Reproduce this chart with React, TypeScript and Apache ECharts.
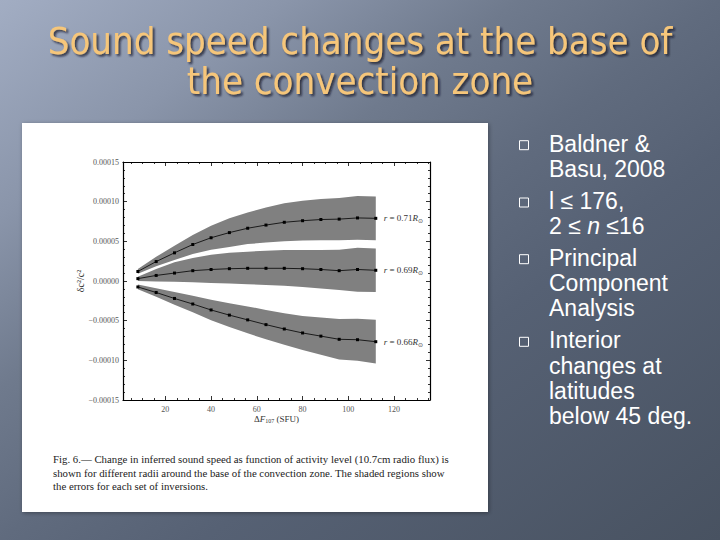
import React, { useEffect, useRef } from "react";
import * as echarts from "echarts";

// ---------- data ----------
const X = [8, 16, 24, 32, 40, 48, 56, 64, 72, 80, 88, 96, 104, 112];

const MEAN_071 = [1.2e-5, 2.45e-5, 3.55e-5, 4.6e-5, 5.45e-5, 6.1e-5, 6.65e-5, 7.05e-5, 7.4e-5, 7.6e-5, 7.75e-5, 7.8e-5, 7.95e-5, 7.9e-5];
const HI_071 = [1.5e-5, 3.05e-5, 4.45e-5, 5.8e-5, 6.95e-5, 7.9e-5, 8.65e-5, 9.25e-5, 9.8e-5, 10.1e-5, 10.35e-5, 10.45e-5, 10.7e-5, 10.65e-5];
const LO_071 = [0.9e-5, 1.85e-5, 2.65e-5, 3.4e-5, 3.95e-5, 4.3e-5, 4.65e-5, 4.85e-5, 5.0e-5, 5.1e-5, 5.15e-5, 5.15e-5, 5.2e-5, 5.15e-5];

const MEAN_069 = [0.3e-5, 0.7e-5, 1.0e-5, 1.3e-5, 1.45e-5, 1.55e-5, 1.6e-5, 1.6e-5, 1.6e-5, 1.55e-5, 1.45e-5, 1.3e-5, 1.45e-5, 1.35e-5];
const HI_069 = [0.55e-5, 1.5e-5, 2.35e-5, 2.9e-5, 3.3e-5, 3.55e-5, 3.7e-5, 3.8e-5, 3.9e-5, 3.9e-5, 3.9e-5, 3.95e-5, 4.2e-5, 4.1e-5];
const LO_069 = [0.0, -0.05e-5, -0.1e-5, -0.15e-5, -0.25e-5, -0.3e-5, -0.4e-5, -0.5e-5, -0.6e-5, -0.75e-5, -0.95e-5, -1.15e-5, -1.35e-5, -1.4e-5];

const MEAN_066 = [-0.75e-5, -1.45e-5, -2.2e-5, -2.9e-5, -3.65e-5, -4.3e-5, -4.9e-5, -5.5e-5, -6.05e-5, -6.55e-5, -6.95e-5, -7.35e-5, -7.4e-5, -7.65e-5];
const HI_066 = [-0.45e-5, -0.9e-5, -1.4e-5, -1.85e-5, -2.35e-5, -2.8e-5, -3.2e-5, -3.65e-5, -4.05e-5, -4.4e-5, -4.6e-5, -4.8e-5, -4.75e-5, -4.9e-5];
const LO_066 = [-1.05e-5, -2.0e-5, -3.0e-5, -3.95e-5, -4.95e-5, -5.8e-5, -6.6e-5, -7.35e-5, -8.05e-5, -8.7e-5, -9.3e-5, -9.9e-5, -10.05e-5, -10.4e-5];

const RADII = ["0.71", "0.69", "0.66"];

const X_MAJOR = [20, 40, 60, 80, 100, 120];
const X_MINOR = [5, 10, 15, 25, 30, 35, 45, 50, 55, 65, 70, 75, 85, 90, 95, 105, 110, 115, 125, 130, 135];
const X_MIN = 1.5;
const X_MAX = 135.7;
const Y_MIN = -0.00015;
const Y_MAX = 0.00015;
const Y_STEP = 0.00005;

const TITLE_LINES = ["Sound speed changes at the base of", "the convection zone"];
const BULLETS = [
  ["Baldner &", "Basu, 2008"],
  ["l ≤ 176,", "2 ≤ {i|n} ≤16"],
  ["Principal", "Component", "Analysis"],
  ["Interior", "changes at", "latitudes", "below 45 deg."],
];
const CAPTION = [
  "Fig. 6.— Change in inferred sound speed as function of activity level (10.7cm radio flux) is",
  "shown for different radii around the base of the convection zone. The shaded regions show",
  "the errors for each set of inversions.",
];

// ---------- styles ----------
const SERIF = "'Liberation Serif', 'DejaVu Serif', serif";
const SANS = "'Liberation Sans', Arial, sans-serif";
const BAND = "#808080";
const LABEL_GRAY = "#555555";

function bandSeries(lo: number[], hi: number[]) {
  return {
    type: "custom",
    data: X.map((x, i) => [x, lo[i], hi[i]]),
    encode: { x: 0, y: [1, 2] },
    silent: true,
    z: 1,
    renderItem: (params: any, api: any) => {
      if (params.dataIndex !== 0) return null;
      const pts: number[][] = [];
      for (let i = 0; i < X.length; i++) pts.push(api.coord([X[i], hi[i]]));
      for (let i = X.length - 1; i >= 0; i--) pts.push(api.coord([X[i], lo[i]]));
      return { type: "polygon", shape: { points: pts }, style: { fill: BAND } };
    },
  };
}

function lineSeries(mean: number[], k: number) {
  return {
    type: "line",
    data: X.map((x, i) => [x, mean[i]]),
    z: 3,
    symbol: "rect",
    symbolSize: 3,
    showSymbol: true,
    lineStyle: { color: "#000", width: 0.8 },
    itemStyle: { color: "#000" },
    silent: true,
    endLabel: {
      show: true,
      distance: 8,
      formatter: () => `{i|r} = ${RADII[k]}{i|R}{s|⊙}`,
      color: "#333",
      fontFamily: SERIF,
      fontSize: 9,
      rich: {
        i: { fontStyle: "italic", fontFamily: SERIF, fontSize: 9, color: "#333" },
        s: { fontFamily: "'DejaVu Sans', sans-serif", fontSize: 6, color: "#333", padding: [5, 0, 0, 0] },
      },
    },
  };
}

const tickLine = { color: "#000", width: 0.8 };

function xAxisDef(pos: string, major: boolean, main: boolean) {
  return {
    type: "value",
    min: X_MIN,
    max: X_MAX,
    position: pos,
    axisLine: { show: major, onZero: false, lineStyle: { color: "#000", width: 1.2 } },
    axisTick: { show: true, inside: true, length: major ? 4 : 2, customValues: major ? X_MAJOR : X_MINOR, lineStyle: tickLine },
    axisLabel: main
      ? { show: true, customValues: X_MAJOR, margin: 5, fontSize: 8, color: LABEL_GRAY, fontFamily: SERIF }
      : { show: false },
    splitLine: { show: false },
    ...(main
      ? {
          name: "Δ{i|F}{sub|107} (SFU)",
          nameLocation: "middle",
          nameGap: 13,
          nameMoveOverlap: false,
          nameTextStyle: {
            fontFamily: SERIF,
            fontSize: 9,
            color: "#333",
            rich: {
              i: { fontStyle: "italic", fontFamily: SERIF, fontSize: 9, color: "#333" },
              sub: { fontFamily: SERIF, fontSize: 6, color: "#333", padding: [5, 0, 0, 0] },
            },
          },
        }
      : {}),
  };
}

function yAxisDef(pos: string, main: boolean) {
  return {
    type: "value",
    min: Y_MIN,
    max: Y_MAX,
    interval: Y_STEP,
    position: pos,
    axisLine: { show: true, onZero: false, lineStyle: { color: "#000", width: 1.2 } },
    axisTick: { show: true, inside: true, length: 4, lineStyle: tickLine },
    minorTick: { show: true, splitNumber: 5, length: 2, lineStyle: tickLine },
    axisLabel: main
      ? {
          show: true,
          margin: 4,
          fontSize: 8,
          color: LABEL_GRAY,
          fontFamily: SERIF,
          formatter: (v: number) => {
            const a = Math.abs(v) < 1e-12 ? 0 : v;
            return "{g|" + (a < 0 ? "−" : "") + Math.abs(a).toFixed(5) + "}";
          },
          rich: { g: { color: LABEL_GRAY, fontFamily: SERIF, fontSize: 8 } },
        }
      : { show: false },
    splitLine: { show: false },
    minorSplitLine: { show: false },
    ...(main
      ? {
          name: "δc²/c²",
          nameLocation: "middle",
          nameGap: 38,
          nameRotate: 90,
          nameMoveOverlap: false,
          nameTextStyle: { fontFamily: SERIF, fontSize: 10, color: "#333" },
        }
      : {}),
  };
}

function buildGraphics() {
  const g: any[] = [];
  g.push({
    type: "rect",
    z: -100,
    silent: true,
    shape: { x: 0, y: 0, width: 720, height: 540 },
    style: {
      fill: new echarts.graphic.LinearGradient(0, 0, 1, 1, [
        { offset: 0, color: "#a2adc3" },
        { offset: 0.2, color: "#8a95aa" },
        { offset: 0.36, color: "#6f7a8d" },
        { offset: 0.5, color: "#606b7e" },
        { offset: 0.64, color: "#566174" },
        { offset: 1, color: "#485261" },
      ]),
    },
  });
  // embedded figure background
  g.push({
    type: "rect",
    z: -90,
    silent: true,
    shape: { x: 22, y: 123, width: 466, height: 389 },
    style: { fill: "#ffffff", shadowColor: "rgba(0,0,0,0.35)", shadowBlur: 4, shadowOffsetX: 1, shadowOffsetY: 1 },
  });
  // title
  TITLE_LINES.forEach((t, i) => {
    g.push({
      type: "text",
      z: 10,
      silent: true,
      x: 360,
      y: 41 + i * 40,
      style: {
        text: t,
        align: "center",
        verticalAlign: "middle",
        fill: "#f6c67a",
        fontFamily: "'DejaVu Sans Condensed', 'Noto Sans', sans-serif",
        fontSize: 38,
        textShadowColor: "rgba(20,25,35,0.75)",
        textShadowBlur: 2,
        textShadowOffsetX: 2,
        textShadowOffsetY: 2,
      },
    });
  });
  // caption
  CAPTION.forEach((t, i) => {
    g.push({
      type: "text",
      z: 10,
      silent: true,
      x: 53,
      y: 459 + i * 13.5,
      style: { text: t, align: "left", verticalAlign: "middle", fill: "#222", fontFamily: SERIF, fontSize: 10.8 },
    });
  });
  // bullets
  const firstBase = [151.7, 209, 265.7, 348.3];
  BULLETS.forEach((lines, b) => {
    const base = firstBase[b];
    g.push({
      type: "rect",
      z: 10,
      silent: true,
      shape: { x: 519.5, y: base - 11, width: 9, height: 9 },
      style: { fill: "none", stroke: "#ffffff", lineWidth: 1 },
    });
    lines.forEach((t, j) => {
      g.push({
        type: "text",
        z: 10,
        silent: true,
        x: 549,
        y: base + j * 25.2 - 8,
        style: {
          text: t,
          align: "left",
          verticalAlign: "middle",
          fill: "#ffffff",
          fontFamily: SANS,
          fontSize: 23,
          rich: { i: { fontStyle: "italic", fontFamily: SANS, fontSize: 23, fill: "#ffffff", color: "#ffffff" } },
        },
      });
    });
  });
  return g;
}

export default function App() {
  const ref = useRef<HTMLDivElement>(null);
  useEffect(() => {
    if (!ref.current) return;
    const chart = echarts.init(ref.current, undefined, { renderer: "svg" });
    chart.setOption({
      animation: false,
      grid: { left: 123, top: 162, width: 307, height: 238, containLabel: false },
      xAxis: [
        xAxisDef("bottom", true, true),
        xAxisDef("top", true, false),
        xAxisDef("bottom", false, false),
        xAxisDef("top", false, false),
      ],
      yAxis: [yAxisDef("left", true), yAxisDef("right", false)],
      series: [
        bandSeries(LO_071, HI_071),
        bandSeries(LO_069, HI_069),
        bandSeries(LO_066, HI_066),
        lineSeries(MEAN_071, 0),
        lineSeries(MEAN_069, 1),
        lineSeries(MEAN_066, 2),
      ],
      graphic: buildGraphics(),
    });
    return () => chart.dispose();
  }, []);
  return (
    <div
      ref={ref}
      style={{ position: "absolute", left: 0, top: 0, width: 720, height: 540 }}
    />
  );
}
